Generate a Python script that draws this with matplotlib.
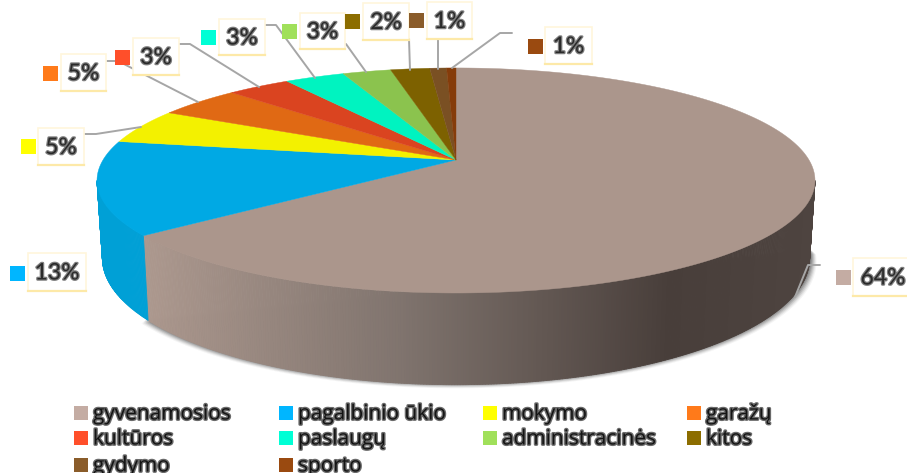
import numpy as np
import matplotlib
matplotlib.use("Agg")
import matplotlib.pyplot as plt
from matplotlib.collections import PolyCollection
from matplotlib.patches import Polygon, Rectangle
import matplotlib.patheffects as pe

categories = ["gyvenamosios", "pagalbinio ūkio", "mokymo", "garažų", "kultūros",
              "paslaugų", "administracinės", "kitos", "gydymo", "sporto"]
values = [64.4, 13.4, 5.0, 4.5, 3.4, 3.2, 2.6, 2.1, 0.9, 0.5]
pct_labels = ["64%", "13%", "5%", "5%", "3%", "3%", "3%", "2%", "1%", "1%"]
top_colors = ["#ab968c", "#00a9e4", "#f3f100", "#e06914", "#da4420",
              "#00f3c0", "#8bc34e", "#7d6100", "#7a5023", "#853c0a"]
key_colors = ["#c4aca3", "#00b6ff", "#ffff00", "#ff7a1a", "#ff4f2a",
              "#00ffd5", "#a0e05a", "#8c6d00", "#8a5c2a", "#9a4a10"]

# layout, in figure pixels
CX, CY, RA, RB, K, DEPTH, BOTTOM_SCALE = 456, 160, 353, 108.8, 0.182, 75, 0.985
label_boxes = [(853, 258, 60, 38), (28, 253, 58, 38), (38, 128, 46, 37), (61, 54, 45, 37),
               (133, 38, 46, 37), (219, 19, 46, 36), (300, 13, 45, 36), (363, 3, 46, 37),
               (427, 2, 45, 37), (545, 27, 47, 37)]
key_boxes = [(836, 270), (10, 266), (21, 139), (43, 66), (115, 50),
             (201, 30), (282, 24), (345, 14), (409, 13), (528, 39)]
leaders = [[(820, 265), (808, 265), (795, 297)],
           None,
           [(85, 134), (96, 134), (141, 127)],
           [(107, 61), (118, 61), (198, 102)],
           [(179, 44), (190, 44), (259, 87)],
           [(265, 25), (276, 25), (315, 78)],
           [(346, 44), (366, 72)],
           [(409, 39), (410, 70)],
           [(438, 39), (438, 69)],
           [(512, 33), (500, 33), (452, 68)]]
legend_cols = [74, 279, 483, 687]
legend_rows = [413, 438, 465]
wall_x = [145, 400, 670, 815]
wall_rgb = np.array([[172, 152, 142], [128, 116, 110], [72, 62, 58], [78, 68, 64]]) / 255


def rim(theta):
    u, v = np.sin(theta), np.cos(theta)
    w = 1 + K * v
    return CX + RA * u / w, CY - RB * v / w, w


def rim_bottom(theta):
    x, y, w = rim(theta)
    return CX + (x - CX) * BOTTOM_SCALE, y + DEPTH / w


def wall_color(x, brown):
    if brown:
        return [np.interp(x, wall_x, wall_rgb[:, j]) for j in range(3)]
    return np.array([0, 160, 214]) / 255


fig = plt.figure(figsize=(9.07, 4.73), dpi=100)
ax = fig.add_axes([0, 0, 1, 1])
ax.set_xlim(0, 907)
ax.set_ylim(473, 0)
ax.axis("off")

edges = np.cumsum([0] + values) / sum(values) * 2 * np.pi

# soft shadow below the pie
ts = np.linspace(np.radians(97), np.radians(232), 200)
bx, by = rim_bottom(ts)
for grow, alpha in zip(np.linspace(7, 1, 7), np.linspace(0.05, 0.24, 7)):
    ax.add_patch(Polygon(np.c_[CX + (bx - CX) * (1 + grow / 359), by + grow * 0.8 - 2],
                         closed=True, fc="#303030", ec="none", alpha=alpha, zorder=1))

# side wall
vis_start = np.arccos(-K)
vis_end = 2 * np.pi - vis_start
th = np.linspace(vis_start, vis_end, 420)
quads, cols = [], []
for a, b in zip(th[:-1], th[1:]):
    x0, y0, _ = rim(a); x1, y1, _ = rim(b)
    x2, y2 = rim_bottom(b); x3, y3 = rim_bottom(a)
    quads.append([(x0, y0), (x1, y1), (x2, y2), (x3, y3)])
    cols.append(wall_color((x0 + x1) / 2, (a + b) / 2 < edges[1]))
ax.add_collection(PolyCollection(quads, facecolors=cols, edgecolors=cols, linewidths=0.6, zorder=2))

# top face
for i, c in enumerate(top_colors):
    t = np.linspace(edges[i], edges[i + 1], max(int(values[i] * 8), 6))
    x, y, _ = rim(t)
    ax.add_patch(Polygon(np.c_[np.r_[CX, x], np.r_[CY, y]], closed=True, fc=c, ec=c, lw=0.3, zorder=3))

halo = [pe.withStroke(linewidth=1.8, foreground="#7d7d7d")]
halo_legend = [pe.withStroke(linewidth=2.0, foreground="#6a6a6a")]

# labels
for i, lab in enumerate(pct_labels):
    if leaders[i]:
        p = np.array(leaders[i])
        ax.plot(p[:, 0], p[:, 1], color="#a6a6a6", lw=1.4, zorder=4, solid_capstyle="round")
    x, y, w, h = label_boxes[i]
    ax.add_patch(Rectangle((x, y), w, h, fc="white", ec="#fff6dc", lw=1.2, zorder=5))
    ax.plot([x, x + w], [y + h, y + h], color="#fde9a8", lw=1.6, zorder=5)
    ax.text(x + w / 2, y + h / 2 + 1, lab, ha="center", va="center", fontsize=16.5, family="Lato",
            color="#2a2a2a", path_effects=halo, zorder=6)
    kx, ky = key_boxes[i]
    ax.add_patch(Rectangle((kx, ky), 15, 15, fc=key_colors[i], ec="none", zorder=5))

# legend
for i, name in enumerate(categories):
    r, c = divmod(i, 4)
    ax.add_patch(Rectangle((legend_cols[c], legend_rows[r] - 7), 14, 14, fc=key_colors[i], ec="none", zorder=5))
    ax.text(legend_cols[c] + 19, legend_rows[r] + 1, name, ha="left", va="center", fontsize=15, family="Open Sans",
            color="#141414", path_effects=halo_legend, zorder=6)

fig.savefig("out.png", dpi=100)
